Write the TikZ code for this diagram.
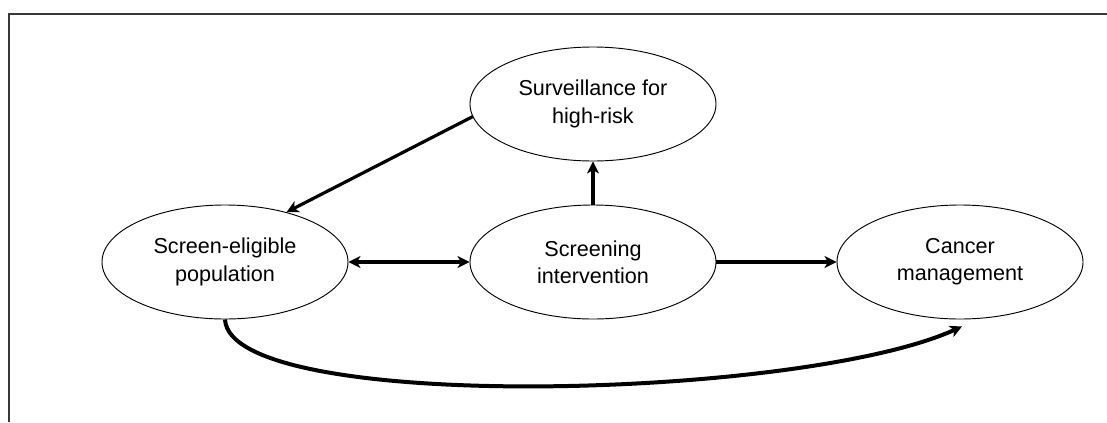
\documentclass[tikz,border=0pt]{standalone}
\usepackage{fontspec}
\setmainfont{Liberation Sans}
\usetikzlibrary{shapes.geometric,arrows.meta}

\begin{document}
\begin{tikzpicture}[
  x=0.75pt,y=-0.75pt,
  font=\fontsize{16.2pt}{20.5pt}\selectfont,
  ell/.style={draw,ellipse,line width=0.7pt,align=center,inner sep=0pt,
    minimum width=184.5pt,minimum height=85.5pt},
  fl/.style={-{Stealth[length=9pt,width=9pt,inset=2.5pt]},line width=2.4pt},
  frm/.style={draw=black!78,line width=1.5pt},
]
\useasboundingbox (0,0) rectangle (1107,422);
% frame (top and left only)
\draw[frm] (1107,14) -- (9,14) -- (9,422);
% nodes
\node[ell] (surv) at (593,104) {Surveillance for\\high-risk};
\node[ell] (elig) at (225,262) {Screen-eligible\\population};
\node[ell] (scr) at (593,262) {Screening\\intervention};
\node[ell] (canc) at (960,262) {Cancer\\management};
% connectors
\draw[fl] (surv.186) -- (elig.39);
\draw[fl,{Stealth[length=9pt,width=9pt,inset=2.5pt]}-{Stealth[length=9pt,width=9pt,inset=2.5pt]}] (elig.east) -- (scr.west);
\draw[fl] (scr.north) -- (surv.south);
\draw[fl] (scr.east) -- (canc.west);
\draw[fl,line width=3pt] (elig.south) .. controls (230,414) and (800,400) .. ([shift={(2,7)}]canc.south);
\end{tikzpicture}
\end{document}
